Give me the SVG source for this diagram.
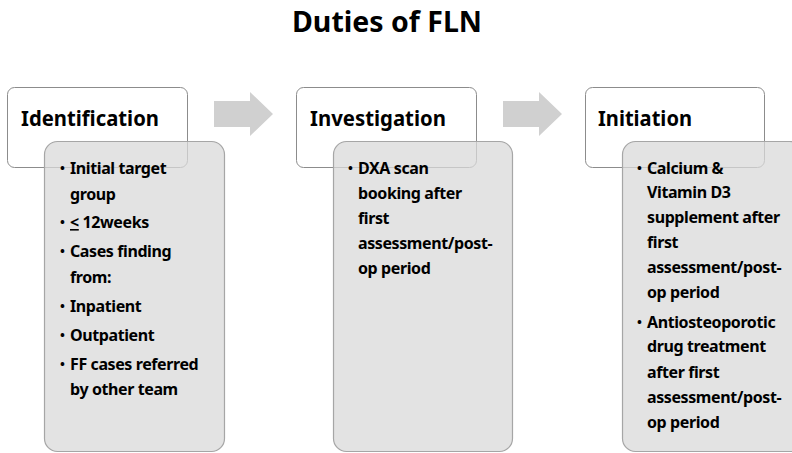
<svg xmlns="http://www.w3.org/2000/svg" width="792" height="453" viewBox="0 0 792 453">
  <style>
    .title { font-family: "Noto Sans", "Open Sans", sans-serif; font-weight: bold; font-size: 28px; fill: #000; }
    .head-box { fill: #ffffff; stroke: #8c8c8c; stroke-width: 1; }
    .head-text { font-family: "Noto Sans", "Open Sans", sans-serif; font-weight: bold; font-size: 22px; fill: #000; }
    .body-box { fill: #d9d9d9; fill-opacity: 0.75; stroke: #a6a6a6; stroke-width: 1.2; }
    .item { font-family: "Noto Sans", "Open Sans", sans-serif; font-weight: bold; font-size: 16px; letter-spacing: -0.4px; fill: #000; }
    .dot { font-family: "Noto Sans", "Open Sans", sans-serif; font-weight: bold; font-size: 13px; fill: #000; }
    .arrow { fill: #d0d0d0; }
  </style>

  <text class="title" x="387" y="32" text-anchor="middle" textLength="190" lengthAdjust="spacingAndGlyphs">Duties of FLN</text>

  <!-- block arrows between stages -->
  <g id="connectors">
    <polygon class="arrow" points="214,101 250,101 250,92 273,114 250,136 250,127 214,127"/>
    <polygon class="arrow" points="503,101 539,101 539,92 562,114 539,136 539,127 503,127"/>
  </g>

  <!-- stage 1 -->
  <g id="identification">
    <rect class="head-box" x="7.5" y="87.5" width="180" height="80" rx="7"/>
    <text class="head-text" x="21" y="126" textLength="138" lengthAdjust="spacingAndGlyphs">Identification</text>
    <rect class="body-box" x="44.5" y="141.5" width="180" height="310" rx="13"/>
    <g class="dot">
      <text x="60" y="173">•</text>
      <text x="60" y="227">•</text>
      <text x="60" y="256">•</text>
      <text x="60" y="311">•</text>
      <text x="60" y="340">•</text>
      <text x="60" y="369">•</text>
    </g>
    <g class="item">
      <text x="70" y="174">Initial target</text>
      <text x="70" y="200">group</text>
      <text x="70" y="228"><tspan text-decoration="underline">&lt;</tspan> 12weeks</text>
      <text x="70" y="257">Cases finding</text>
      <text x="70" y="283">from:</text>
      <text x="70" y="312">Inpatient</text>
      <text x="70" y="341">Outpatient</text>
      <text x="70" y="370">FF cases referred</text>
      <text x="70" y="395">by other team</text>
    </g>
  </g>

  <!-- stage 2 -->
  <g id="investigation">
    <rect class="head-box" x="296.5" y="87.5" width="180" height="80" rx="7"/>
    <text class="head-text" x="310" y="126" textLength="136" lengthAdjust="spacingAndGlyphs">Investigation</text>
    <rect class="body-box" x="333.5" y="141.5" width="179" height="310" rx="13"/>
    <text class="dot" x="348" y="173">•</text>
    <g class="item">
      <text x="358" y="174">DXA scan</text>
      <text x="358" y="199">booking after</text>
      <text x="358" y="224">first</text>
      <text x="358" y="249">assessment/post-</text>
      <text x="358" y="274">op period</text>
    </g>
  </g>

  <!-- stage 3 -->
  <g id="initiation">
    <rect class="head-box" x="585.5" y="87.5" width="179" height="80" rx="7"/>
    <text class="head-text" x="598" y="126" textLength="94" lengthAdjust="spacingAndGlyphs">Initiation</text>
    <rect class="body-box" x="622.5" y="141.5" width="180" height="310" rx="13"/>
    <g class="dot">
      <text x="637" y="173">•</text>
      <text x="637" y="327">•</text>
    </g>
    <g class="item">
      <text x="647" y="174">Calcium &amp;</text>
      <text x="647" y="198">Vitamin D3</text>
      <text x="647" y="223">supplement after</text>
      <text x="647" y="248">first</text>
      <text x="647" y="273">assessment/post-</text>
      <text x="647" y="298">op period</text>
      <text x="647" y="328">Antiosteoporotic</text>
      <text x="647" y="352">drug treatment</text>
      <text x="647" y="378">after first</text>
      <text x="647" y="403">assessment/post-</text>
      <text x="647" y="428">op period</text>
    </g>
  </g>
</svg>
